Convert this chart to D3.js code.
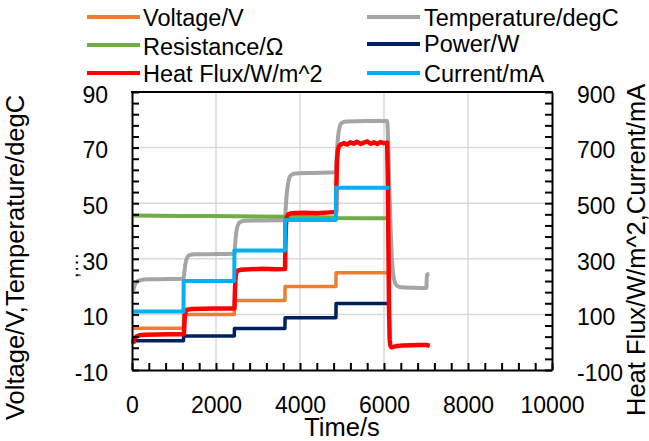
<!DOCTYPE html>
<html>
<head>
<meta charset="utf-8">
<script src="https://cdn.jsdelivr.net/npm/d3@7"></script>
<style>
  body { margin: 0; background: #fff; }
  text { font-family: "Liberation Sans", Arial, sans-serif; fill: #000; }
</style>
</head>
<body>
<div id="chart"></div>
<script>
// series, [time s, value]
const voltage = [[30,5],[1226,5],[1230,10],[2435,10],[2439,15],[3641,15],[3645,20],[4855,20],[4859,25],[6064,25]];
const temperature = [[30,18.5],[50,19.8],[80,21],[120,21.8],[200,22.3],[400,22.6],[800,22.7],[1226,22.8],
  [1245,25],[1265,27.5],[1290,29.5],[1320,30.6],[1370,31.3],[1500,31.6],[2000,31.7],[2437,31.8],
  [2455,35],[2475,38.5],[2500,41],[2530,42.5],[2580,43.3],[2700,43.7],[3200,43.8],[3643,43.9],
  [3660,48],[3680,52.5],[3705,56],[3735,58.5],[3780,60],[3880,60.7],[4300,60.9],[4857,61.1],
  [4872,66],[4890,71],[4915,75],[4945,77.5],[4990,78.8],[5100,79.4],[5600,79.6],[6075,79.6],
  [6090,76],[6110,66],[6135,52],[6160,40],[6185,31],[6215,25],[6250,22],[6300,20.4],[6400,19.8],
  [6700,19.6],[7010,19.5],[7015,22],[7022,24.3],[7080,24.5]];
const resistance = [[30,45.6],[600,45.5],[1226,45.4],[1800,45.4],[2437,45.3],[3000,45.2],[3643,45.1],
  [4200,45],[4857,44.9],[4870,44.7],[5500,44.6],[6048,44.6]];
const power = [[30,0.55],[1226,0.55],[1230,2.2],[2435,2.2],[2439,4.9],[3641,4.9],[3645,8.8],[4855,8.8],[4859,13.9],[6080,13.9]];
const heatFlux = [[30,-5],[45,8],[70,16],[110,21],[180,25],[300,27],[600,28],[900,29],[1235,29],
  [1245,60],[1258,95],[1275,110],[1310,117],[1400,119],[1700,120],[2000,121],[2440,121],
  [2448,170],[2460,220],[2480,248],[2510,257],[2600,261],[2800,262],[3100,264],[3400,262],[3645,263],
  [3652,350],[3665,420],[3685,450],[3720,460],[3800,464],[4100,466],[4400,464],[4700,467],[4860,468],
  [4866,560],[4880,650],[4900,690],[4930,705],[4980,712],[5050,716],[5120,711],[5200,719],[5280,714],
  [5360,721],[5440,713],[5520,718],[5600,722],[5680,714],[5760,719],[5840,713],[5920,720],[6000,716],[6075,718],
  [6090,600],[6105,350],[6120,120],[6135,10],[6150,-12],[6175,-18],[6220,-17],[6300,-14],[6450,-12],
  [6650,-11],[6850,-10],[7000,-10],[7090,-13]];
const current = [[30,110],[1226,110],[1230,220],[2435,220],[2439,330],[3641,330],[3645,440],[4855,440],[4859,556],[6127,556]];

const leftTicks = [-10, 10, 30, 50, 70, 90];
const rightTicks = [-100, 100, 300, 500, 700, 900];
const xTicks = [0, 2000, 4000, 6000, 8000, 10000];

const series = [
  { name: "Voltage/V", data: voltage, color: "#ED7D31", axis: "L", width: 3.5 },
  { name: "Temperature/degC", data: temperature, color: "#A5A5A5", axis: "L", width: 4 },
  { name: "Resistance/Ω", data: resistance, color: "#70AD47", axis: "L", width: 4 },
  { name: "Power/W", data: power, color: "#002060", axis: "L", width: 3.5 },
  { name: "Heat Flux/W/m^2", data: heatFlux, color: "#FF0000", axis: "R", width: 4.5 },
  { name: "Current/mA", data: current, color: "#00B0F0", axis: "R", width: 4 }
];

const W = 649, H = 441;
const svg = d3.select("#chart").append("svg").attr("width", W).attr("height", H);

const x = d3.scaleLinear().domain([0, 10000]).range([132, 552]);
const yL = d3.scaleLinear().domain([-10, 90]).range([370, 92]);
const yR = d3.scaleLinear().domain([-100, 900]).range([370, 92]);

// gridlines
const grid = svg.append("g").attr("stroke", "#d9d9d9").attr("stroke-width", 1.5);
xTicks.slice(1, -1).forEach(t => {
  grid.append("line").attr("x1", x(t)).attr("x2", x(t)).attr("y1", yL(-10)).attr("y2", yL(90));
});
leftTicks.slice(1, -1).forEach(t => {
  grid.append("line").attr("x1", x(0)).attr("x2", x(10000)).attr("y1", yL(t)).attr("y2", yL(t));
});

// series
series.forEach(s => {
  const y = s.axis === "L" ? yL : yR;
  const line = d3.line().x(d => x(d[0])).y(d => y(d[1]));
  if (s.name.startsWith("Temperature")) line.curve(d3.curveMonotoneX);
  svg.append("path")
    .datum(s.data)
    .attr("fill", "none")
    .attr("stroke", s.color)
    .attr("stroke-width", s.width)
    .attr("stroke-linejoin", "round")
    .attr("d", line);
});

// axes, minor ticks pointing inside
const fmtMajor = (list) => d => list.includes(d) ? d : "";
const xAxis = d3.axisBottom(x).tickValues(d3.range(0, 10001, 400))
  .tickSizeInner(-7).tickSizeOuter(0).tickPadding(27).tickFormat(fmtMajor(xTicks));
const lAxis = d3.axisLeft(yL).tickValues(d3.range(-10, 91, 4))
  .tickSizeInner(-7).tickSizeOuter(0).tickPadding(24).tickFormat(fmtMajor(leftTicks));
const rAxis = d3.axisRight(yR).tickValues(d3.range(-100, 901, 40))
  .tickSizeInner(-7).tickSizeOuter(0).tickPadding(25).tickFormat(fmtMajor(rightTicks));

function styleAxis(g) {
  g.attr("font-family", null).attr("font-size", null);
  g.selectAll("path.domain").attr("stroke", "#000").attr("stroke-width", 2);
  g.selectAll(".tick line").attr("stroke", "#000").attr("stroke-width", 2);
  g.selectAll("text").style("font-size", "23px");
}
svg.append("g").attr("transform", `translate(0,${yL(-10)})`).call(xAxis).call(styleAxis);
svg.append("g").attr("transform", `translate(${x(0)},0)`).call(lAxis).call(styleAxis)
  .selectAll("text").attr("dy", "0.45em");
svg.append("g").attr("transform", `translate(${x(10000)},0)`).call(rAxis).call(styleAxis)
  .selectAll("text").attr("dy", "0.45em");

// top border
svg.append("line").attr("x1", x(0) - 1).attr("x2", x(10000) + 1).attr("y1", yL(90)).attr("y2", yL(90))
  .attr("stroke", "#000").attr("stroke-width", 2);

// axis titles
svg.append("text").attr("x", 342).attr("y", 436).attr("text-anchor", "middle")
  .style("font-size", "25.5px").text("Time/s");
svg.append("text").attr("transform", "translate(24,420) rotate(-90)")
  .style("font-size", "25.5px").text("Voltage/V,Temperature/degC");
svg.append("text").attr("transform", "translate(645,416) rotate(-90)")
  .style("font-size", "25.5px").text("Heat Flux/W/m^2,Current/mA");
svg.append("text").attr("transform", "translate(78,278) rotate(-90)")
  .style("font-size", "20px").text(",…");

// legend
const legendPos = [
  { lx: 87, tx: 143, ly: 17, ty: 26 },
  { lx: 367, tx: 424, ly: 17, ty: 26 },
  { lx: 87, tx: 143, ly: 45, ty: 55 },
  { lx: 367, tx: 424, ly: 44, ty: 52 },
  { lx: 87, tx: 143, ly: 73, ty: 82 },
  { lx: 367, tx: 424, ly: 73, ty: 82 }
];
const legend = svg.append("g");
series.forEach((s, i) => {
  const p = legendPos[i];
  legend.append("line").attr("x1", p.lx).attr("x2", p.lx + 53).attr("y1", p.ly).attr("y2", p.ly)
    .attr("stroke", s.color).attr("stroke-width", 4);
  legend.append("text").attr("x", p.tx).attr("y", p.ty).style("font-size", "23.5px").text(s.name);
});
</script>
</body>
</html>
